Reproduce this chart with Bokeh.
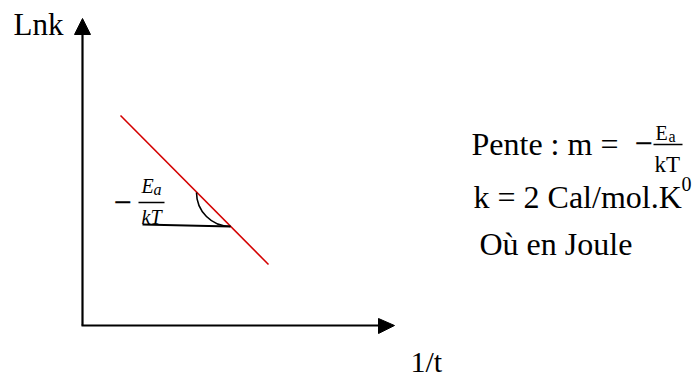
from bokeh.plotting import figure
from bokeh.models import Range1d
from bokeh.embed import file_html
from bokeh.resources import INLINE
from bokeh.core.properties import value

# Schematic geometry, expressed in reference pixel coordinates (x right, y down)
W, H = 693, 378
vert_axis_x = [82, 82]
vert_axis_y = [325, 32]
vert_head_x = [74, 90, 82]
vert_head_y = [34, 34, 18]
horiz_axis_x = [81, 380]
horiz_axis_y = [325, 325]
horiz_head_x = [378, 378, 394]
horiz_head_y = [318, 333, 325]
red_line_x = [120, 268]
red_line_y = [115, 264]
tangent_x = [142, 230]
tangent_y = [224, 226]
arc_center = (230, 192)
arc_radius = 34

def fy(v):
    return [H - t for t in v] if isinstance(v, list) else H - v

p = figure(width=W, height=H, output_backend="svg", toolbar_location=None,
           x_range=Range1d(0, W), y_range=Range1d(0, H),
           min_border=0, min_border_left=0, min_border_right=0,
           min_border_top=0, min_border_bottom=0)
p.axis.visible = False
p.grid.visible = False
p.outline_line_color = None
p.background_fill_color = "white"
p.border_fill_color = "white"

# axes
p.line(vert_axis_x, fy(vert_axis_y), line_color="black", line_width=2.2)
p.patch(vert_head_x, fy(vert_head_y), fill_color="black", line_color="black")
p.line(horiz_axis_x, fy(horiz_axis_y), line_color="black", line_width=2.2)
p.patch(horiz_head_x, fy(horiz_head_y), fill_color="black", line_color="black")

# red line
p.line(red_line_x, fy(red_line_y), line_color="#d40000", line_width=1.6)
# tangent and angle arc
p.line(tangent_x, fy(tangent_y), line_color="black", line_width=2)
p.arc(x=[arc_center[0]], y=[fy(arc_center[1])], radius=arc_radius,
      start_angle=3.14159265, end_angle=4.71238898, line_color="black", line_width=1.6)

serif = value("Liberation Serif")
K = 0.35  # baseline compensation

def txt(x, y, s, size, style="normal", font=serif):
    p.text(x=[x], y=[fy(y - K * size)], text=[s], text_font=font, text_font_size=f"{size}px",
           text_font_style=style, text_align="left", text_baseline="alphabetic",
           text_color="black")

txt(13, 35, "Lnk", 31)
txt(410, 371, "1/t", 30)

# left label: − Ea/kT
txt(112, 209, "−", 24, font=value("DejaVu Serif"))
p.line([138, 164], fy([202, 202]), line_color="black", line_width=1.5)
txt(141, 192, "E", 20, "italic")
txt(153, 195, "a", 16, "italic")
txt(141, 223, "kT", 20, "italic")

# right text
txt(471, 155, "Pente : m =", 32)
txt(633, 150, "−", 24, font=value("DejaVu Serif"))
p.line([653, 682], fy([144, 144]), line_color="black", line_width=1.5)
txt(655, 139, "E", 20)
txt(668, 142, "a", 16)
txt(654, 172, "kT", 23)

txt(473, 208, "k = 2 Cal/mol.K", 32)
txt(681, 190, "0", 20)
txt(479, 255, "Où en Joule", 32)

open("out.html", "w").write(file_html(p, INLINE))
